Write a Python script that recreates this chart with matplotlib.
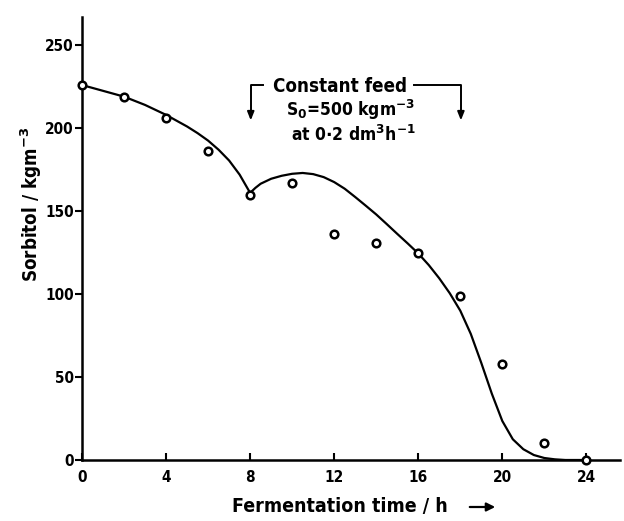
import matplotlib
matplotlib.use("Agg")
import matplotlib.pyplot as plt

# ---- data ----
time_h = [0, 2, 4, 6, 8, 10, 12, 14, 16, 18, 20, 22, 24]
sorbitol = [226, 219, 206, 186, 160, 167, 136, 131, 125, 99, 58, 10, 0]

curve_t = [0, 1, 2, 3, 4, 5, 5.5, 6, 6.5, 7, 7.5, 8,
           8.25, 8.5, 9, 9.5, 10, 10.5, 11, 11.5, 12, 12.5, 13, 13.5, 14,
           14.5, 15, 15.5, 16, 16.5, 17, 17.5, 18, 18.5, 19, 19.5, 20,
           20.5, 21, 21.5, 22, 22.5, 23, 24]
curve_s = [226, 222.5, 219, 214, 208, 201, 197, 192.5, 187, 180.5, 172, 161,
           164, 166.5, 169.5, 171.3, 172.5, 173, 172.3, 170.5, 167.5, 163.5, 158.5, 153.3, 148,
           142.2, 136.3, 130.5, 124.5, 117.5, 109.5, 100.5, 90, 76, 58.5, 40, 23.5,
           12.5, 6.5, 3, 1.2, 0.4, 0, 0]

x_ticks = [0, 4, 8, 12, 16, 20, 24]
y_ticks = [0, 50, 100, 150, 200, 250]

FONT = dict(family="DejaVu Sans", weight="bold", stretch="condensed")

plt.rcParams["mathtext.fontset"] = "dejavusans"
plt.rcParams["mathtext.default"] = "bf"

fig = plt.figure(figsize=(6.24, 5.21), dpi=100)
ax = fig.add_axes([82 / 624, 1 - 460 / 521, (620 - 82) / 624, (460 - 17) / 521])

ax.plot(curve_t, curve_s, color="black", lw=1.6, solid_capstyle="round",
        solid_joinstyle="round", zorder=2)
ax.plot(time_h, sorbitol, linestyle="none", marker="o", ms=5.5, mfc="white",
        mec="black", mew=1.8, zorder=3, clip_on=False)

ax.set_xlim(0, 25.6)
ax.set_ylim(0, 267)
ax.set_xticks(x_ticks)
ax.set_yticks(y_ticks)
ax.set_xticklabels([str(v) for v in x_ticks], fontsize=11, **FONT)
ax.set_yticklabels([str(v) for v in y_ticks], fontsize=11, **FONT)
ax.tick_params(axis="x", direction="in", length=5, width=1.5, pad=7)
ax.tick_params(axis="y", direction="out", length=5, width=1.5, pad=1)

for s in ["top", "right"]:
    ax.spines[s].set_visible(False)
for s in ["left", "bottom"]:
    ax.spines[s].set_linewidth(1.8)

# annotation bracket arrows
ax.plot([8.6, 8.03, 8.03], [226, 226, 207], color="black", lw=1.4)
ax.annotate("", xy=(8.03, 203), xytext=(8.03, 210),
            arrowprops=dict(arrowstyle="-|>,head_length=0.5,head_width=0.2",
                            color="black", lw=1.4))
ax.plot([15.8, 18.03, 18.03], [226, 226, 207], color="black", lw=1.4)
ax.annotate("", xy=(18.03, 203), xytext=(18.03, 210),
            arrowprops=dict(arrowstyle="-|>,head_length=0.5,head_width=0.2",
                            color="black", lw=1.4))

ax.text(12.3, 225, "Constant feed", ha="center", va="center", fontsize=13.5, **FONT)
ax.text(12.8, 211, r"S$_{\mathbf{0}}$=500 kgm$^{\mathbf{-3}}$", ha="center",
        va="center", fontsize=12.5, **FONT)
ax.text(12.9, 196, r"at 0$\cdot$2 dm$^{\mathbf{3}}$h$^{\mathbf{-1}}$", ha="center",
        va="center", fontsize=12.5, **FONT)

fig.text(31 / 624, 1 - 204 / 521, r"Sorbitol / kgm$^{\mathbf{-3}}$", rotation=90,
         ha="center", va="center", fontsize=13.5, **FONT)
fig.text(232 / 624, 1 - 507 / 521, "Fermentation time / h", ha="left",
         va="center", fontsize=14, **FONT)
fig.add_artist(matplotlib.patches.FancyArrowPatch(
    (467 / 624, 1 - 507 / 521), (498 / 624, 1 - 507 / 521),
    transform=fig.transFigure, arrowstyle="-|>,head_length=5,head_width=2.5",
    color="black", lw=1.6))

fig.savefig("out.png", dpi=100)
